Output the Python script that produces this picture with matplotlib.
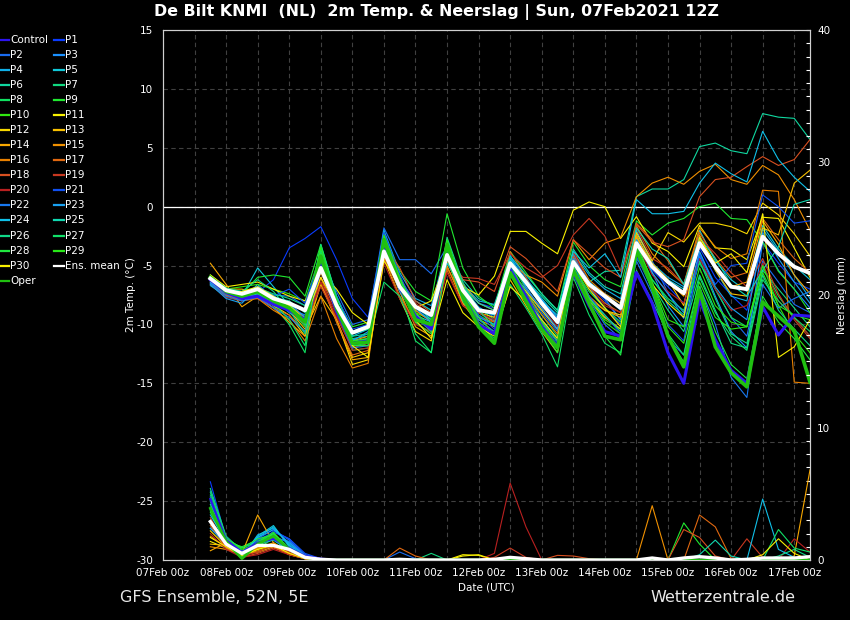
import matplotlib
matplotlib.use('Agg')
import matplotlib.pyplot as plt
from matplotlib.lines import Line2D
from matplotlib.ticker import MultipleLocator

plt.rcParams['axes.unicode_minus'] = False

# forecast hours after 07Feb 00z (6-hourly, 07Feb 18z .. 17Feb 06z)
hours = list(range(18, 247, 6))
day_ticks = list(range(0, 241, 24))
day_labels = ['07Feb 00z', '08Feb 00z', '09Feb 00z', '10Feb 00z', '11Feb 00z', '12Feb 00z',
              '13Feb 00z', '14Feb 00z', '15Feb 00z', '16Feb 00z', '17Feb 00z']

# 2m temperature (degC), grouped per day
t_ctl = [-6.2, -7.3,-7.8,-7.6,-8.3, -8.8,-9.6,-4.6,-8.9, -11.6,-11.4,-3.2,-6.9, -9.3,-10.4,-3.6,-7.6, -10.0,-10.8,-5.4,-7.6, -10.2,-11.9,-5.6,-8.4, -10.6,-11.0,-5.6,-8.2, -12.4,-15.0,-7.9,-11.3, -13.9,-15.0,-8.5,-10.9, -9.2,-9.3]
t_p01 = [-6.4, -7.2,-7.6,-7.3,-6.2, -3.5,-2.7,-1.7,-4.5, -7.8,-9.4,-2.2,-6.2, -8.0,-8.8,-3.0,-6.5, -8.2,-8.6,-4.2,-6.0, -7.9,-9.5,-4.3,-6.5, -8.0,-9.6,-3.5,-5.4, -6.8,-8.2,-3.5,-6.0, -7.5,-8.8,-3.0,-4.8, -6.4,-7.0]
t_p02 = [-6.0, -7.0,-7.3,-6.8,-7.5, -7.6,-8.4,-4.4,-7.2, -10.0,-9.6,-1.8,-4.5, -4.5,-5.7,-3.4,-6.8, -8.5,-9.4,-4.1,-6.9, -9.0,-10.6,-4.0,-6.8, -8.6,-10.0,-2.2,-4.6, -7.3,-9.5,-4.0,-7.0, -9.4,-11.0,-4.6,-6.4, -8.3,-9.0]
t_p03 = [-6.3, -7.4,-7.8,-7.4,-8.2, -8.6,-9.2,-4.8,-8.6, -11.3,-10.8,-2.4,-6.4, -8.8,-9.6,-3.8,-7.2, -9.0,-9.7,-4.6,-6.8, -8.8,-10.4,-4.0,-6.4, -7.8,-9.6,-2.6,-5.6, -8.4,-10.2,-4.2,-7.6, -10.6,-12.0,-3.0,-5.4, -7.0,-8.6]
t_p04 = [-6.5, -7.5,-7.9,-6.6,-7.9, -9.0,-10.0,-4.0,-8.2, -11.0,-10.4,-2.0,-5.6, -7.8,-8.4,-3.6,-6.6, -8.0,-8.3,-4.4,-6.2, -8.0,-9.2,-3.9,-5.8, -7.0,-7.8,-2.0,-4.8, -6.0,-6.8,-2.8,-5.4, -7.6,-8.0,-1.9,-3.8, -5.8,-7.8]
t_p05 = [-6.7, -7.6,-7.6,-5.2,-6.8, -8.4,-9.4,-3.4,-7.6, -10.6,-10.0,-2.6,-6.0, -8.4,-9.4,-4.2,-7.0, -8.6,-9.2,-5.0,-6.6, -8.4,-9.8,-4.6,-6.4, -7.4,-8.2,-2.4,-5.0, -6.2,-7.0,-2.0,-4.6, -6.2,-7.2,-1.6,-3.6, -5.0,-6.2]
t_p06 = [-6.1, -7.0,-7.4,-7.1,-7.7, -8.0,-9.0,-5.0,-8.4, -10.8,-10.4,-3.4,-6.6, -8.0,-8.8,-3.6,-6.2, -7.8,-8.4,-4.6,-6.2, -7.6,-9.0,-4.8,-6.4, -5.5,-5.4,0.85,1.5, 1.5,2.3,5.1,5.4, 4.75,4.5,7.9,7.6, 7.5,5.7]
t_p07 = [-5.9, -7.0,-7.2,-6.9,-7.4, -7.8,-8.4,-4.6,-8.0, -11.2,-11.0,-3.0,-6.4, -9.2,-10.2,-2.8,-6.8, -8.6,-9.6,-5.2,-7.2, -9.2,-11.0,-5.0,-7.6, -9.4,-10.4,-4.4,-6.2, -8.0,-9.2,-4.6,-7.8, -10.8,-11.6,-5.4,-7.0, -8.6,-10.2]
t_p08 = [-6.2, -7.3,-7.5,-7.2,-8.4, -10.0,-12.4,-3.8,-8.8, -12.2,-12.0,-3.6,-7.0, -11.4,-12.4,-4.0,-7.4, -9.2,-10.0,-4.6,-7.0, -9.6,-11.2,-5.2,-7.2, -8.6,-9.8,-3.4,-6.2, -7.8,-8.8,-4.8,-7.0, -9.4,-10.2,-5.0,-7.6, -9.4,-11.0]
t_p09 = [-6.0, -7.1,-7.4,-6.0,-5.8, -6.0,-7.6,-3.2,-7.8, -10.2,-9.8,-2.6,-5.4, -7.2,-8.0,-0.6,-5.2, -7.6,-8.6,-3.8,-5.6, -7.4,-8.8,-3.0,-5.0, -6.2,-6.8,-1.2,-2.4, -1.4,-1.0,0.0,0.3, -1.0,-1.1,-3.0,-5.5, -7.0,-9.0]
t_p10 = [-5.8, -7.0,-6.8,-6.6,-7.0, -7.4,-8.0,-4.0,-8.0, -11.6,-11.2,-2.6,-6.4, -9.0,-9.6,-2.8,-7.4, -9.8,-10.8,-4.8,-7.8, -10.2,-12.0,-4.6,-7.6, -9.6,-10.4,-3.0,-6.4, -9.6,-10.2,-5.2,-8.4, -9.8,-10.2,-5.6,-8.4, -10.8,-12.4]
t_p11 = [-5.8, -6.8,-6.6,-6.4,-7.0, -7.6,-8.0,-5.6,-7.0, -9.0,-10.0,-4.0,-7.2, -8.6,-8.0,-4.4,-6.8, -7.5,-5.9,-2.1,-2.1, -3.1,-4.0,-0.3,0.4, 0.0,-2.7,-0.85,-3.1, -3.8,-5.1,-1.6,-3.5, -3.6,-4.5,-0.9,-1.0, -3.5,-6.0]
t_p12 = [-6.0, -7.2,-7.6,-7.6,-8.4, -9.2,-11.0,-6.6,-9.6, -13.4,-13.0,-4.4,-7.8, -10.6,-11.4,-4.6,-7.6, -9.0,-9.4,-5.4,-7.2, -8.8,-10.4,-5.6,-7.8, -8.8,-9.2,-2.2,-4.6, -2.2,-3.0,-1.4,-1.4, -1.7,-2.3,0.3,-0.7, -2.3,-4.2]
t_p13 = [-6.1, -7.0,-7.0,-7.4,-8.0, -8.8,-10.4,-7.6,-9.6, -12.8,-12.4,-2.8,-6.0, -9.0,-10.6,-4.4,-8.2, -10.0,-10.6,-6.2,-8.4, -10.6,-12.4,-5.2,-8.0, -9.4,-10.4,-2.6,-4.8, -6.2,-8.4,-2.4,-5.4, -7.4,-7.6,-1.8,-2.4, 2.0,3.1]
t_p14 = [-4.8, -6.6,-8.5,-7.6,-8.6, -9.8,-11.0,-6.4,-9.8, -13.0,-12.8,-3.4,-7.2, -10.2,-11.0,-5.0,-8.2, -9.6,-10.2,-5.8,-7.8, -9.8,-11.4,-5.4,-7.6, -8.8,-9.4,-2.4,-5.2, -6.4,-7.6,-2.8,-5.0, -6.8,-6.4,-1.2,-3.2, -5.8,-7.4]
t_p15 = [-6.3, -7.4,-7.7,-7.0,-8.0, -8.4,-9.4,-5.6,-8.6, -11.4,-11.0,-3.0,-6.6, -8.8,-9.8,-4.6,-6.6, -8.2,-8.8,-4.8,-5.8, -6.4,-7.6,-2.8,-4.5, -3.1,-2.6,0.85,2.0, 2.5,1.9,3.0,3.6, 2.3,1.9,3.5,2.7, 0.6,-2.0]
t_p16 = [-6.0, -7.2,-7.8,-7.8,-8.8, -9.6,-11.4,-7.6,-11.2, -13.7,-13.3,-3.6,-7.0, -9.4,-10.4,-5.2,-7.6, -9.0,-9.8,-5.6,-7.4, -9.2,-10.8,-3.8,-6.2, -7.4,-8.2,-1.6,-4.0, -5.4,-6.6,-1.8,-3.4, -4.4,-4.0,1.4,1.3, -14.9,-15.0]
t_p17 = [-6.4, -7.5,-8.0,-7.8,-8.6, -9.2,-10.6,-6.0,-9.8, -12.6,-12.2,-4.2,-7.6, -9.8,-10.8,-5.4,-8.4, -9.4,-9.8,-3.8,-6.0, -8.4,-9.8,-4.2,-6.8, -8.2,-9.0,-1.4,-2.8, -4.6,-6.6,-2.2,-4.4, -6.0,-5.6,-1.0,-2.8, -4.4,-5.6]
t_p18 = [-6.2, -7.3,-7.6,-7.1,-7.8, -8.4,-9.6,-6.0,-9.0, -11.8,-11.8,-3.2,-5.2, -8.0,-9.0,-4.0,-6.2, -6.4,-7.2,-3.4,-4.4, -5.8,-7.2,-2.8,-4.0, -5.2,-6.0,-1.5,-3.0, -3.4,-2.8,0.85,2.3, 2.5,3.4,4.25,3.5, 4.0,5.7]
t_p19 = [-6.6, -7.7,-8.0,-7.6,-8.2, -8.6,-9.8,-6.8,-9.4, -12.0,-11.6,-4.6,-6.2, -8.2,-9.2,-4.6,-6.0, -6.1,-6.6,-4.0,-5.2, -6.0,-5.0,-2.4,-1.0, -2.5,-5.5,-1.8,-4.4, -5.2,-6.6,-2.6,-4.0, -5.6,-6.8,-4.4,-7.4, -9.6,-11.2]
t_p20 = [-6.3, -7.4,-7.8,-7.4,-8.0, -8.8,-10.0,-6.4,-9.2, -12.2,-12.0,-4.8,-7.8, -10.0,-10.6,-5.6,-8.4, -9.0,-9.6,-5.6,-7.0, -8.6,-10.2,-3.8,-6.6, -8.4,-9.0,-3.0,-5.8, -7.2,-8.2,-4.4,-7.0, -8.8,-8.4,-4.8,-8.0, -9.4,-11.0]
t_p21 = [-6.2, -7.2,-7.6,-7.2,-7.6, -7.0,-8.2,-4.2,-7.6, -10.4,-10.0,-2.2,-5.8, -8.6,-9.4,-3.4,-6.8, -9.2,-10.4,-5.0,-7.4, -9.6,-11.6,-5.0,-7.6, -9.2,-10.8,-4.2,-7.0, -10.0,-11.4,-4.0,-6.6, -5.0,-4.8,1.0,0.0, -1.4,-1.2]
t_p22 = [-6.5, -7.6,-8.0,-7.7,-8.6, -9.4,-10.6,-5.4,-9.0, -12.0,-11.8,-3.0,-6.6, -9.4,-10.4,-4.2,-7.6, -9.6,-10.6,-5.6,-7.8, -10.0,-11.8,-5.8,-8.0, -10.0,-11.2,-4.6,-7.4, -11.2,-12.6,-6.8,-10.0, -14.5,-16.2,-6.6,-8.6, -7.8,-7.2]
t_p23 = [-6.6, -7.8,-8.2,-6.8,-7.6, -8.2,-9.4,-4.4,-8.2, -11.4,-10.6,-2.8,-6.2, -8.6,-9.8,-4.0,-7.4, -9.4,-10.0,-5.6,-7.0, -8.6,-10.4,-4.4,-6.4, -7.6,-8.8,-2.8,-5.6, -7.4,-9.0,-3.8,-6.8, -8.6,-9.6,-2.2,-4.4, -6.4,-8.2]
t_p24 = [-6.4, -7.4,-7.8,-7.4,-8.4, -8.6,-9.6,-5.0,-8.8, -11.4,-11.2,-3.6,-7.2, -9.2,-9.8,-4.8,-7.0, -8.8,-9.2,-4.4,-6.2, -7.8,-9.4,-3.8,-5.2, -4.0,-6.0,0.6,-0.6, -0.6,-0.4,2.0,3.7, 2.8,2.1,6.4,4.0, 2.5,1.3]
t_p25 = [-6.0, -7.0,-7.4,-7.0,-7.6, -8.2,-10.0,-4.6,-8.2, -10.6,-10.4,-3.0,-6.2, -8.4,-9.6,-3.4,-6.8, -8.2,-8.8,-4.2,-5.8, -7.4,-8.8,-3.6,-5.6, -6.8,-7.4,-1.8,-3.6, -4.4,-6.6,-2.6,-4.4, -6.6,-7.6,-5.4,-3.4, 0.2,0.6]
t_p26 = [-5.9, -6.9,-7.2,-6.2,-7.2, -8.8,-10.8,-3.2,-7.6, -11.0,-10.8,-2.8,-6.2, -9.4,-10.6,-2.6,-6.4, -8.8,-10.2,-5.4,-7.6, -9.8,-11.4,-5.8,-7.8, -9.2,-10.6,-3.8,-6.6, -8.8,-10.6,-5.8,-8.8, -11.6,-12.0,-5.8,-8.8, -10.4,-11.8]
t_p27 = [-6.1, -7.2,-7.4,-7.4,-8.2, -9.6,-11.8,-3.6,-8.4, -11.8,-11.6,-6.4,-7.6, -10.8,-12.4,-4.4,-8.0, -10.0,-11.2,-6.6,-8.6, -10.8,-13.6,-6.0,-9.2, -11.6,-12.4,-5.4,-8.0, -10.8,-12.6,-6.0,-9.0, -11.0,-12.2,-6.2,-8.0, -9.4,-10.6]
t_p28 = [-6.2, -7.4,-7.8,-7.2,-7.8, -8.6,-10.2,-4.0,-8.6, -11.8,-11.8,-3.2,-6.8, -9.8,-10.8,-3.0,-7.2, -9.4,-10.8,-5.6,-8.2, -10.4,-12.4,-5.0,-8.4, -11.0,-12.6,-3.4,-7.2, -11.0,-13.2,-6.8,-10.6, -13.4,-14.6,-7.6,-9.8, -11.2,-13.0]
t_p29 = [-6.0, -7.1,-7.6,-7.0,-7.8, -8.4,-9.8,-3.4,-8.0, -11.4,-11.2,-2.4,-6.0, -9.0,-10.2,-2.8,-6.8, -9.8,-11.4,-4.8,-7.4, -9.8,-11.8,-4.6,-7.8, -9.8,-10.8,-3.6,-6.4, -10.2,-11.6,-6.4,-9.4, -10.4,-10.2,-5.0,-8.4, -9.2,-9.6]
t_p30 = [-6.2, -7.3,-7.2,-6.8,-7.6, -8.4,-9.6,-6.0,-8.4, -11.8,-12.8,-4.6,-6.6, -9.6,-11.2,-6.2,-9.0, -10.2,-11.0,-6.8,-8.0, -9.6,-11.2,-4.8,-7.0, -8.6,-10.2,-3.8,-6.6, -8.2,-9.4,-2.6,-4.8, -4.0,-5.6,-0.6,-12.8, -11.9,-9.6]
t_oper = [-6.0, -7.2,-7.6,-7.2,-8.0, -8.6,-9.8,-4.2,-8.6, -11.6,-11.5,-2.8,-6.6, -9.6,-10.0,-3.2,-7.6, -10.2,-11.6,-5.6,-8.0, -10.4,-12.0,-5.4,-8.2, -11.0,-11.3,-3.7,-6.8, -11.0,-13.6,-7.1,-11.9, -14.1,-15.3,-8.1,-9.3, -10.5,-14.9]
t_mean = [-6.1, -7.1,-7.4,-7.0,-7.8, -8.2,-8.8,-5.2,-8.4, -10.7,-10.2,-3.8,-6.8, -8.5,-9.2,-4.1,-7.1, -8.8,-9.0,-4.8,-6.4, -8.2,-9.8,-4.7,-6.6, -7.6,-8.6,-3.1,-5.1, -6.4,-7.35,-3.1,-5.1, -6.8,-7.0,-2.55,-4.0, -5.1,-5.65]

# precipitation (mm), grouped per day
p_ctl = [4.6, 1.5,0.6,1.3,1.6, 0.9,0.3,0.1,0, 0,0,0,0, 0,0,0,0, 0,0,0,0, 0,0,0,0, 0,0,0,0, 0,0,0,0, 0,0,0,0, 0,0]
p_p01 = [5.9, 1.6,0.4,1.1,2.2, 1.6,0.4,0.1,0, 0,0,0,0, 0,0,0,0, 0,0,0,0, 0,0,0,0, 0,0,0,0, 0,0,0,0, 0,0,0,0, 0,0]
p_p02 = [5.2, 1.7,0.5,1.6,2.3, 1.5,0.3,0,0, 0,0,0,0.6, 0.1,0,0,0, 0,0,0,0, 0,0,0,0, 0,0,0,0, 0,0,0,0, 0,0,0,0, 0,0]
p_p03 = [3.8, 1.4,0.3,1.2,1.8, 1.3,0.3,0,0, 0,0,0,0, 0,0,0,0, 0,0,0,0, 0,0,0,0, 0,0,0,0, 0,0,0,0, 0,0,0,0, 0,0]
p_p04 = [2.4, 1.2,0.2,1.9,2.4, 1.2,0.2,0,0, 0,0,0,0, 0,0,0,0, 0,0,0,0, 0,0,0,0, 0,0,0,0, 0,0,0,0, 0,0,0,0, 0,0]
p_p05 = [3.0, 1.3,0.3,1.8,2.6, 1.0,0.2,0,0, 0,0,0,0, 0,0,0,0, 0,0,0,0, 0,0,0,0, 0,0,0,0, 0,0,0,0, 0,0,0,0, 0,0]
p_p06 = [4.4, 1.6,0.9,1.4,1.6, 0.7,0.2,0,0, 0,0,0,0, 0,0,0,0, 0,0,0,0, 0,0,0,0, 0,0,0,0, 0,0,0,0, 0,0,0,0, 0,0]
p_p07 = [5.4, 1.8,0.7,1.3,1.9, 0.8,0.1,0,0, 0,0,0,0, 0,0.5,0,0, 0,0,0,0, 0,0,0,0, 0,0,0,0, 0,0,0,0, 0,0,0,0, 0,0]
p_p08 = [4.9, 1.5,0.6,0.9,1.6, 0.6,0.2,0.1,0, 0,0,0,0, 0,0,0,0, 0,0,0,0, 0,0,0,0, 0,0,0,0, 0,0,0,0, 0,0,0,0, 0,0]
p_p09 = [4.0, 1.4,1.0,1.5,2.0, 0.9,0.3,0,0, 0,0,0,0, 0,0,0,0, 0,0,0,0, 0,0,0,0, 0,0,0,0, 0,2.8,1.2,0, 0,0,0,0, 0,0]
p_p10 = [3.6, 1.2,0.4,1.0,1.8, 0.8,0.2,0,0, 0,0,0,0, 0,0,0,0, 0,0,0,0, 0,0,0,0, 0,0,0,0, 0,0,0,0, 0,0,0,0, 0,0]
p_p11 = [1.4, 0.9,0.5,0.6,1.0, 0.4,0.1,0,0, 0,0,0,0, 0,0,0,0.4, 0.35,0,0,0, 0,0,0,0, 0,0,0,0, 0,0,0,0, 0,0,0,0, 0,0]
p_p12 = [2.2, 1.0,0.4,0.8,1.2, 0.5,0.2,0,0, 0,0,0,0, 0,0,0,0, 0,0,0,0, 0,0,0,0, 0,0,0,0, 0,0,0,0, 0,0,0,0, 0,0]
p_p13 = [1.2, 1.1,0.6,0.9,1.3, 0.6,0.2,0,0, 0,0,0,0, 0,0,0,0, 0,0,0,0, 0,0,0,0, 0,0,0,0, 0,0,0,0, 0,0,0,0, 0,0]
p_p14 = [0.7, 1.3,0.5,3.4,1.3, 0.5,0.1,0,0, 0,0,0,0, 0,0,0,0, 0,0,0,0, 0,0,0,0, 0,0,0,0, 0,0,0,0, 0,0,0,0, 0.3,6.8]
p_p15 = [1.0, 0.8,0.4,0.9,1.1, 0.6,0.2,0,0, 0,0,0,0, 0,0,0,0, 0,0,0,0, 0,0,0,0, 0,0,0,4.1, 0,0,0,0, 0,0,0,0, 0,0]
p_p16 = [1.8, 1.0,0.3,0.7,1.0, 0.4,0.1,0,0, 0,0,0,0, 0,0,0,0, 0,0,0,0, 0,0,0,0, 0,0,0,0, 0,0,0,0, 0,0,0,0, 0,0]
p_p17 = [2.6, 0.9,0.3,1.0,1.2, 0.7,0.3,0,0, 0,0,0,0.9, 0.3,0,0,0, 0,0,0,0, 0,0,0,0, 0,0,0,0, 0,0,3.4,2.5, 0.1,0,0,0, 0,0]
p_p18 = [3.2, 1.1,0.2,0.5,0.9, 0.5,0.1,0,0, 0,0,0,0, 0,0,0,0, 0,0,0,0, 0,0.35,0.3,0.1, 0,0,0,0, 0,2.3,1.7,0.3, 0,0,0,0, 0,0]
p_p19 = [2.8, 1.0,0.3,0.6,1.1, 0.6,0.2,0,0, 0,0,0,0, 0,0,0,0, 0,0.2,0.9,0.2, 0,0,0,0, 0,0,0,0, 0,0,0,0, 0,1.6,0.2,0, 0,0]
p_p20 = [2.0, 0.8,0.2,0.4,0.8, 0.4,0.1,0,0, 0,0,0,0, 0,0,0,0, 0,0.5,5.8,2.5, 0,0,0,0, 0,0,0,0, 0,0,0,0, 0,0,0,0, 1.6,0.6]
p_p21 = [4.8, 1.7,0.6,1.5,2.1, 1.6,0.5,0.1,0, 0,0,0,0, 0,0,0,0, 0,0,0,0, 0,0,0,0, 0,0,0,0, 0,0,0,0, 0,0,0,0, 0,0]
p_p22 = [2.9, 1.3,0.2,1.2,1.7, 1.4,0.4,0,0, 0,0,0,0, 0,0,0,0, 0,0,0,0, 0,0,0,0, 0,0,0,0, 0,0,0,0, 0,0,0,0, 0,0]
p_p23 = [2.4, 1.2,0.3,1.7,2.3, 1.3,0.3,0,0, 0,0,0,0, 0,0,0,0, 0,0,0,0, 0,0,0,0, 0,0,0,0, 0,0,0,0, 0,0,0,0, 0,0]
p_p24 = [3.4, 1.4,0.4,1.7,2.5, 1.1,0.2,0,0, 0,0,0,0, 0,0,0,0, 0,0,0,0, 0,0,0,0, 0,0,0,0, 0,0,0,0, 0,0,4.6,0.8, 0.2,0]
p_p25 = [4.2, 1.6,0.5,1.2,1.5, 0.7,0.2,0,0, 0,0,0,0, 0,0,0,0, 0,0,0,0, 0,0,0,0, 0,0,0,0, 0,0,0.4,1.5, 0.3,0,0,0, 0,0]
p_p26 = [3.7, 1.5,0.7,1.1,1.7, 0.8,0.2,0,0, 0,0,0,0, 0,0,0,0, 0,0,0,0, 0,0,0,0, 0,0,0,0, 0,0,0,0, 0,0,0,0.3, 0.8,0.2]
p_p27 = [5.1, 1.7,0.2,1.4,2.0, 0.9,0.3,0,0, 0,0,0,0, 0,0,0,0, 0,0,0,0, 0,0,0,0, 0,0,0,0, 0,0,0,0, 0,0,0,2.3, 0.9,0.6]
p_p28 = [4.5, 1.6,0.9,1.6,1.9, 0.7,0.2,0,0, 0,0,0,0, 0,0,0,0, 0,0,0,0, 0,0,0,0, 0,0,0,0, 0,0,0,0, 0,0,0,0, 0,0]
p_p29 = [4.7, 1.5,0.8,1.3,2.1, 0.8,0.2,0,0, 0,0,0,0, 0,0,0,0, 0,0,0,0, 0,0,0,0, 0,0,0,0, 0,0,0,0, 0,0,0,0, 0,0]
p_p30 = [1.7, 1.0,0.3,0.8,1.1, 0.5,0.1,0,0, 0,0,0,0, 0,0,0,0.3, 0.4,0,0,0, 0,0,0,0, 0,0,0,0, 0,0,0,0, 0,0,0.4,1.6, 0.5,0]
p_oper = [3.9, 1.4,0.1,1.2,1.8, 0.8,0.2,0,0, 0,0,0,0, 0,0,0,0, 0,0,0,0, 0,0,0,0, 0,0,0,0, 0,0,0,0, 0,0,0,0, 0,0]
p_mean = [2.9, 1.2,0.5,1.1,1.1, 0.8,0.2,0.05,0, 0,0,0,0.05, 0,0,0,0, 0,0.05,0.2,0.1, 0,0,0,0, 0,0,0,0.15, 0,0.15,0.25,0.15, 0,0.05,0.15,0.15, 0.15,0.25]

names = ['P%d' % i for i in range(1, 31)]
colors = ['#0a3cff', '#1a6cf0', '#1a90ff', '#10b0e8', '#10c8d8', '#10d8a0', '#10d880', '#10e060',
          '#20e830', '#30e810', '#f8f000', '#f8d800', '#f8c000', '#f8a800', '#f09000', '#e88000',
          '#e06810', '#d85020', '#c83820', '#b82020', '#1050f0', '#1878f0', '#18a0f0', '#10c0e8',
          '#10d8b0', '#10d888', '#10e068', '#20e840', '#28e818', '#f8f000']
ctl_color = '#2d14f0'
oper_color = '#20c010'

temps = [t_p01, t_p02, t_p03, t_p04, t_p05, t_p06, t_p07, t_p08, t_p09, t_p10,
         t_p11, t_p12, t_p13, t_p14, t_p15, t_p16, t_p17, t_p18, t_p19, t_p20,
         t_p21, t_p22, t_p23, t_p24, t_p25, t_p26, t_p27, t_p28, t_p29, t_p30]
precs = [p_p01, p_p02, p_p03, p_p04, p_p05, p_p06, p_p07, p_p08, p_p09, p_p10,
         p_p11, p_p12, p_p13, p_p14, p_p15, p_p16, p_p17, p_p18, p_p19, p_p20,
         p_p21, p_p22, p_p23, p_p24, p_p25, p_p26, p_p27, p_p28, p_p29, p_p30]
for s in temps + precs + [t_ctl, t_oper, t_mean, p_ctl, p_oper, p_mean]:
    assert len(s) == len(hours), len(s)

fig = plt.figure(figsize=(8.5, 6.2), dpi=100, facecolor='black')
ax = fig.add_axes([163/850, 60/620, 647/850, 530/620], facecolor='black')
ax2 = ax.twinx()

gridc = '#404040'
ax.set_axisbelow(True)
ax.set_xlim(0, 246)
ax.set_ylim(-30, 15)
ax2.set_ylim(0, 40)
ax.set_xticks(day_ticks)
ax.set_xticklabels(day_labels)
ax.xaxis.set_minor_locator(MultipleLocator(12))
ax.set_yticks(range(-30, 16, 5))
ax.grid(True, which='both', axis='x', color=gridc, lw=0.8, ls=(0, (4, 3)))
ax.grid(True, which='major', axis='y', color=gridc, lw=0.8, ls=(0, (4, 3)))
ax.axhline(0, color='white', lw=0.9, zorder=1.5)

ax.tick_params(axis='x', which='both', length=0, pad=6, colors='white', labelsize=7.5)
ax.tick_params(axis='y', length=0, pad=7, colors='white', labelsize=7.5)
ax2.yaxis.set_major_locator(MultipleLocator(10))
ax2.yaxis.set_minor_locator(MultipleLocator(1))
ax2.tick_params(axis='y', which='both', direction='in', length=3, width=0.8,
                colors='white', labelsize=7.5, pad=5)
for a in (ax, ax2):
    for sp in a.spines.values():
        sp.set_color('#d0d0d0')
        sp.set_linewidth(0.8)

# temperature
for name, c, t in zip(names, colors, temps):
    ax.plot(hours, t, color=c, lw=0.8, zorder=2)
ax.plot(hours, t_ctl, color=ctl_color, lw=2.2, zorder=3)
ax.plot(hours, t_oper, color=oper_color, lw=2.6, zorder=3.2)
ax.plot(hours, t_mean, color='white', lw=2.8, zorder=3.4)

# precipitation
for name, c, p in zip(names, colors, precs):
    ax2.plot(hours, p, color=c, lw=0.8, zorder=2)
ax2.plot(hours, p_ctl, color=ctl_color, lw=1.6, zorder=3)
ax2.plot(hours, p_oper, color=oper_color, lw=2.0, zorder=3.2)
ax2.plot(hours, p_mean, color='white', lw=2.4, zorder=3.4)

ax.set_xlabel('Date (UTC)', color='white', fontsize=7.5, labelpad=3)
ax.set_ylabel('2m Temp. (°C)', color='white', fontsize=7.5)
ax.yaxis.set_label_coords(-0.042, 0.5)
ax2.set_ylabel('Neerslag (mm)', color='white', fontsize=7.5, labelpad=5)

fig.text(0.513, 0.981, 'De Bilt KNMI  (NL)  2m Temp. & Neerslag | Sun, 07Feb2021 12Z',
         color='white', fontsize=11.4, fontweight='bold', ha='center', va='center')
fig.text(120/850, 1 - 598/620, 'GFS Ensemble, 52N, 5E', color='#e8e8e8',
         fontsize=11.5, ha='left', va='center')
fig.text(650/850, 1 - 598/620, 'Wetterzentrale.de', color='#e8e8e8',
         fontsize=11.5, ha='left', va='center')

# legend, two columns filled row by row
leg_names = ['Control'] + names + ['Ens. mean', 'Oper']
leg_colors = [ctl_color] + colors + ['white', oper_color]
for k, (n, c) in enumerate(zip(leg_names, leg_colors)):
    row, col = divmod(k, 2)
    y = 1 - (40 + 15.04 * row) / 620
    x0, x1 = (1, 9) if col == 0 else (54, 64)
    fig.add_artist(Line2D([x0/850, x1/850], [y, y], transform=fig.transFigure,
                          color=c, lw=1.6))
    fig.text((x1 + 1)/850, y, n, color='white', fontsize=7.5, ha='left', va='center')

fig.savefig('out.png', dpi=100, facecolor='black')
